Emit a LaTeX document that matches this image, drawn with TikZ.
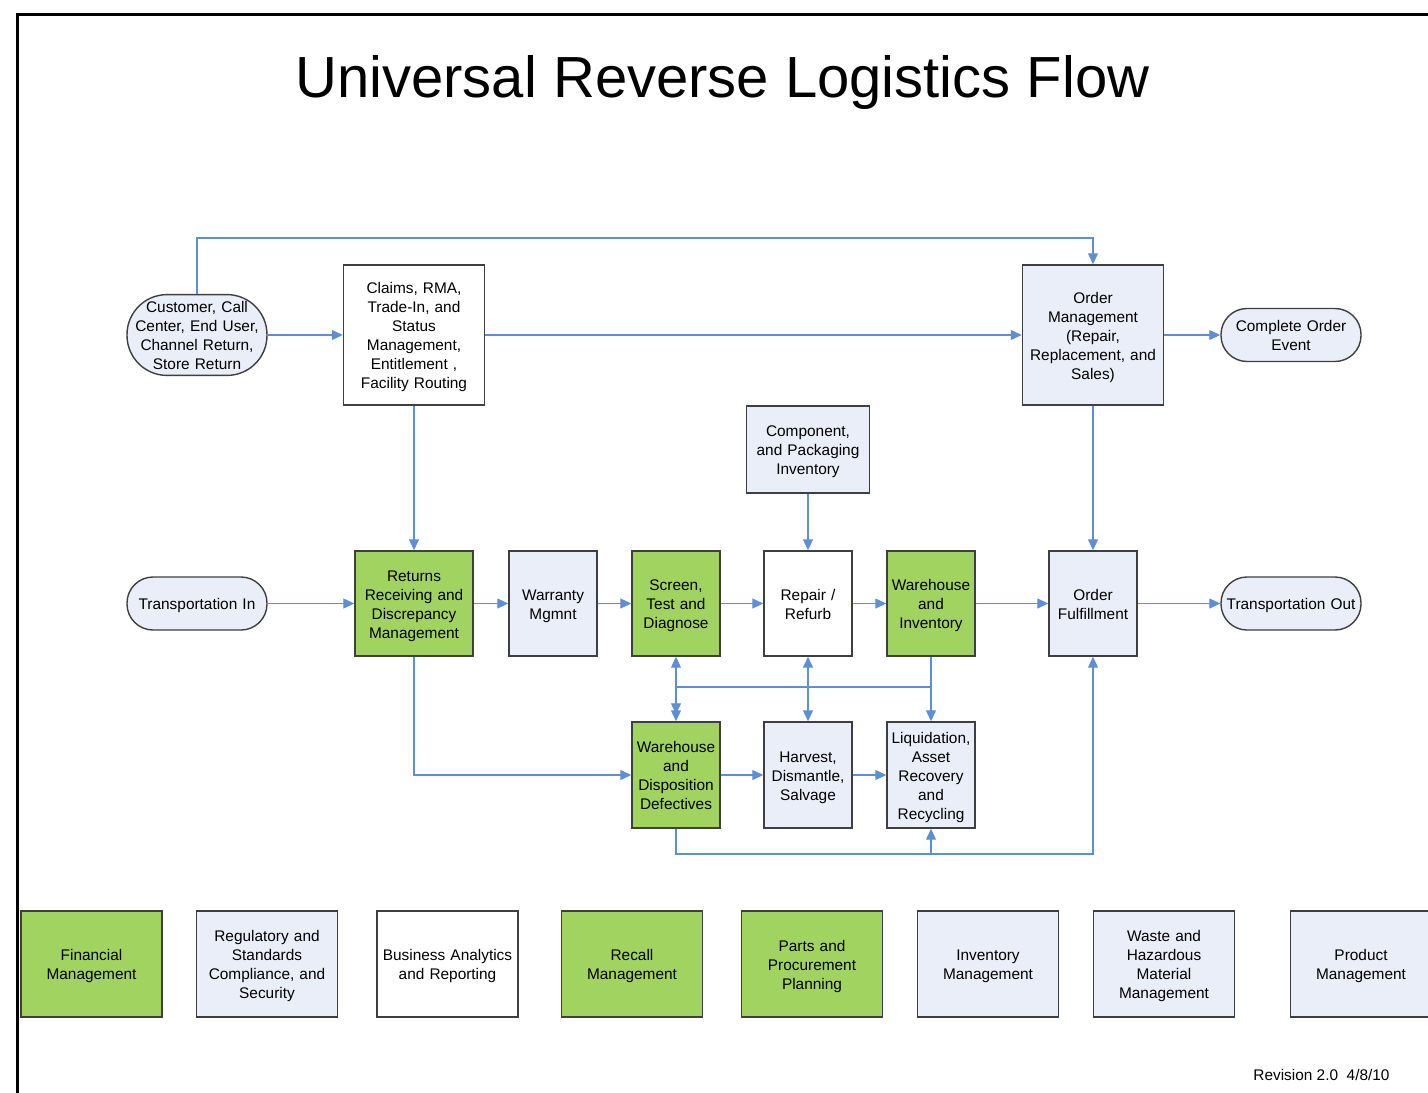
\documentclass[tikz,border=0pt]{standalone}
\usepackage{fontspec}
\setmainfont{Liberation Sans}
\usetikzlibrary{arrows.meta,calc}

\definecolor{leaf}{HTML}{A1D360}
\definecolor{pale}{HTML}{EAEEF8}
\definecolor{edge}{HTML}{3F3F3F}
\definecolor{wire}{HTML}{5E8FD4}

\newcommand{\bodyfont}{\fontsize{7.7pt}{9.5pt}\selectfont}

\tikzset{
  box/.style={draw=edge, line width=0.7pt, inner sep=1pt, align=center, font=\bodyfont,
    execute at begin node={\rule{0pt}{8.1pt}},
    execute at end node={\rule[-1.8pt]{0pt}{1.8pt}}},
  greenbox/.style={box, fill=leaf},
  palebox/.style={box, fill=pale},
  whitebox/.style={box, fill=white},
  stadium/.style={box, fill=pale, rounded corners=13pt, minimum width=70pt, minimum height=26.5pt, text width=67pt},
  bigbox/.style={minimum width=70.5pt, minimum height=70pt, text width=67pt},
  midbox/.style={minimum width=44pt, minimum height=52.5pt, text width=41.5pt},
  lowbox/.style={minimum width=44pt, minimum height=53pt, text width=41.5pt},
  footbox/.style={minimum width=70.5pt, minimum height=53pt, text width=67pt},
  conn/.style={draw=wire, line width=0.55pt},
  arr/.style={conn, -{Triangle[length=5.5pt,width=5pt]}},
  biarr/.style={conn, {Triangle[length=5.5pt,width=5pt]}-{Triangle[length=5.5pt,width=5pt]}},
}

\begin{document}
\begin{tikzpicture}[x=0.5pt, y=-0.5pt]
\useasboundingbox (0,0) rectangle (1428,1092);
\clip (0,0) rectangle (1428,1092);

% page frame
\draw[line width=1.5pt] (17.5,1120) -- (17.5,14.5) -- (1450,14.5);

% title
\node[anchor=base, font=\fontsize{29pt}{34pt}\selectfont, inner sep=0pt] (title) at (722.5,97) {Universal Reverse Logistics Flow};

% top row
\node[stadium, minimum height=40pt, rounded corners=20pt] (cust) at (197,335) {Customer, Call\\Center, End User,\\Channel Return,\\Store Return};
\node[whitebox, bigbox] (claims) at (414,335) {Claims, RMA,\\Trade-In, and\\Status\\Management,\\Entitlement ,\\Facility Routing};
\node[palebox, bigbox] (om) at (1093,335) {Order\\Management\\(Repair,\\Replacement, and\\Sales)};
\node[stadium] (coe) at (1291,335) {Complete Order\\Event};
\node[palebox, minimum width=61.5pt, minimum height=43.5pt, text width=59pt] (comp) at (808,449.5) {Component,\\and Packaging\\Inventory};

% main flow row
\node[stadium] (tin) at (197,603.5) {Transportation In};
\node[greenbox, minimum width=59pt, minimum height=52.5pt, text width=56.5pt] (ret) at (414,603.5) {Returns\\Receiving and\\Discrepancy\\Management};
\node[palebox, midbox] (war) at (553,603.5) {Warranty\\Mgmnt};
\node[greenbox, midbox] (scr) at (676,603.5) {Screen,\\Test and\\Diagnose};
\node[whitebox, midbox] (rep) at (808,603.5) {Repair /\\Refurb};
\node[greenbox, midbox] (whi) at (931,603.5) {Warehouse\\and\\Inventory};
\node[palebox, midbox] (of) at (1093,603.5) {Order\\Fulfillment};
\node[stadium] (tout) at (1291,603.5) {Transportation Out};

% disposition row
\node[greenbox, lowbox] (wd) at (676,775) {Warehouse\\and\\Disposition\\Defectives};
\node[palebox, lowbox] (hv) at (808,775) {Harvest,\\Dismantle,\\Salvage};
\node[palebox, lowbox] (lq) at (931,775) {Liquidation,\\Asset\\Recovery\\and\\Recycling};

% supporting functions
\node[greenbox, footbox] (fin) at (91.5,964) {Financial\\Management};
\node[palebox, footbox] (reg) at (267,964) {Regulatory and\\Standards\\Compliance, and\\Security};
\node[whitebox, footbox] (bar) at (447.5,964) {Business Analytics\\and Reporting};
\node[greenbox, footbox] (rec) at (632,964) {Recall\\Management};
\node[greenbox, footbox] (par) at (812,964) {Parts and\\Procurement\\Planning};
\node[palebox, footbox] (inv) at (988,964) {Inventory\\Management};
\node[palebox, footbox] (was) at (1164,964) {Waste and\\Hazardous\\Material\\Management};
\node[palebox, footbox] (pro) at (1361,964) {Product\\Management};

\node[anchor=base west, font=\bodyfont, inner sep=0pt] (rev) at (1253,1080) {Revision 2.0\ \ 4/8/10};

% routing levels
\coordinate (topy) at (0,238);
\coordinate (midy) at (0,687);
\coordinate (boty) at (0,854);

% connectors: top level
\draw[arr] (cust.north) -- (cust.north |- topy) -| (om.north);
\draw[arr] (cust.east) -- (claims.west);
\draw[arr] (claims.east) -- (om.west);
\draw[arr] (om.east) -- (coe.west);
\draw[arr] (claims.south) -- (ret.north);
\draw[arr] (comp.south) -- (rep.north);
\draw[arr] (om.south) -- (of.north);

% connectors: main flow
\draw[arr] (tin.east) -- (ret.west);
\draw[arr] (ret.east) -- (war.west);
\draw[arr] (war.east) -- (scr.west);
\draw[arr] (scr.east) -- (rep.west);
\draw[arr] (rep.east) -- (whi.west);
\draw[arr] (whi.east) -- (of.west);
\draw[arr] (of.east) -- (tout.west);

% connectors: disposition
\draw[arr] (ret.south) |- (wd.west);
\draw[arr] (wd.east) -- (hv.west);
\draw[arr] (hv.east) -- (lq.west);
\draw[biarr] (scr.south) -- (wd.north);
\draw[biarr] (rep.south) -- (hv.north);
\draw[arr] (whi.south) -- (lq.north);
\draw[arr, shorten >=3.5pt] (whi.south |- midy) -- (scr.south |- midy) -- (wd.north);
\draw[arr] (wd.south) -- (wd.south |- boty) -| (of.south);
\draw[arr] (lq.south |- boty) -- (lq.south);
\end{tikzpicture}
\end{document}
